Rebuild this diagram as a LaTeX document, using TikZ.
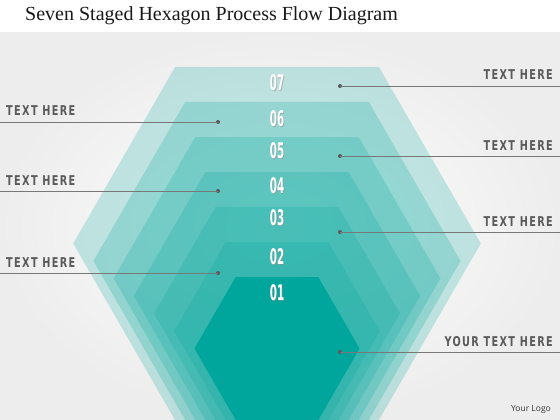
\documentclass[tikz,border=0pt]{standalone}
\usepackage{fontspec}
\setmainfont{Liberation Serif}
\newfontfamily\numfont[FakeStretch=0.48]{DejaVu Sans}
\newfontfamily\lblfont[FakeStretch=0.72,LetterSpace=10]{DejaVu Sans}
\newfontfamily\logofont{Open Sans}
\definecolor{hexteal}{RGB}{0,166,156}
\definecolor{lblgray}{RGB}{90,90,90}
\definecolor{linegray}{RGB}{120,120,120}
\tikzset{
  hexlayer/.style={fill=hexteal, fill opacity=0.22},
  hexcore/.style={fill=hexteal},
  numtext/.style={text=white, font=\numfont\bfseries\fontsize{21.5}{22}\selectfont, inner sep=0pt},
  numshadow/.style={text=black!45, text opacity=0.6, font=\numfont\bfseries\fontsize{21.5}{22}\selectfont, inner sep=0pt},
  lbl/.style={text=lblgray, font=\lblfont\bfseries\fontsize{13.5}{14}\selectfont, inner sep=0pt},
  dotnode/.style={circle, fill=black!65, inner sep=0pt, minimum size=4pt},
  lead/.style={draw=linegray, line width=0.8pt}
}
\begin{document}
\begin{tikzpicture}[x=1pt,y=-1pt]
\useasboundingbox (0,0) rectangle (560,420);
\fill[white] (0,0) rectangle (560,420);
\shade[inner color=white, outer color=black!7] (0,33) rectangle (560,420);
% title
\node[anchor=base west, inner sep=0pt, font=\fontsize{20}{22}\selectfont, text=black!90] (title) at (25,21) {Seven Staged Hexagon Process Flow Diagram};
% hexagons (layers 7..2)
\foreach \t in {67,102,137,172,207,242}{
  \pgfmathsetmacro\R{(420-\t)/1.7320508}
  \pgfmathsetmacro\h{(420-\t)/2}
  \fill[hexlayer] (277-\R,420-\h) -- (277-\R/2,\t) -- (277+\R/2,\t) -- (277+\R,420-\h) -- (277+\R/2,420) -- (277-\R/2,420) -- cycle;
}
\pgfmathsetmacro\R{(420-277)/1.7320508}
\pgfmathsetmacro\h{(420-277)/2}
\fill[hexcore] (277-\R,420-\h) -- (277-\R/2,277) -- (277+\R/2,277) -- (277+\R,420-\h) -- (277+\R/2,420) -- (277-\R/2,420) -- cycle;
% numbers
\foreach \n/\y in {07/83,06/119,05/151,04/186,03/218,02/257,01/293}{
  \node[numshadow] (s\n) at (277.8,\y+0.8) {\n};
  \node[numtext] (n\n) at (277,\y) {\n};
}
% right labels
\foreach \nm/\y/\txt in {r1/86/TEXT HERE, r2/156/TEXT HERE, r3/232/TEXT HERE, r4/352/YOUR TEXT HERE}{
  \node[dotnode] (d\nm) at (340,\y) {};
  \coordinate (e\nm) at (560,\y);
  \draw[lead] (d\nm.center) -- (e\nm);
  \node[lbl, anchor=base east] (t\nm) at (553,\y-6) {\txt};
}
% left labels
\foreach \nm/\y in {l1/122, l2/191, l3/273}{
  \node[dotnode] (d\nm) at (218,\y) {};
  \coordinate (e\nm) at (0,\y);
  \draw[lead] (d\nm.center) -- (e\nm);
  \node[lbl, anchor=base west] (t\nm) at (6,\y-6) {TEXT HERE};
}
% logo
\node[anchor=base east, inner sep=0pt, font=\logofont\fontsize{8.5}{10}\selectfont, text=black!80] (logo) at (551,411) {Your Logo};
\end{tikzpicture}
\end{document}
